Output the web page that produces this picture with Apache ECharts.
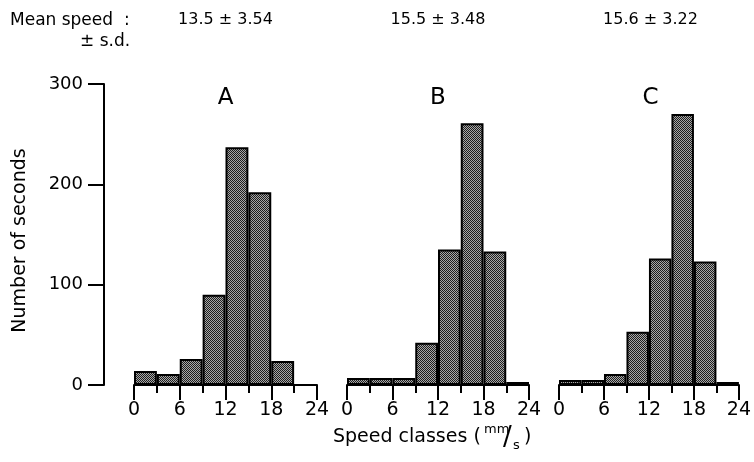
<!doctype html>
<html>
<head>
<meta charset="utf-8">
<title>Speed classes</title>
<style>
  html, body { margin: 0; padding: 0; background: #fff; }
  #main { width: 754px; height: 462px; }
</style>
</head>
<body>
<div id="main"></div>
<script src="https://cdn.jsdelivr.net/npm/echarts@6/dist/echarts.min.js"></script>
<script>
// speed classes, 3 mm/s wide
var bins = ['0-3', '3-6', '6-9', '9-12', '12-15', '15-18', '18-21', '21-24'];
var countsA = [14, 11, 26, 90, 237, 192, 24, 0];
var countsB = [7, 7, 7, 42, 135, 261, 133, 3];
var countsC = [5, 5, 11, 53, 126, 270, 123, 3];
var panels = ['A', 'B', 'C'];
var meanSd = ['13.5 \u00b1 3.54', '15.5 \u00b1 3.48', '15.6 \u00b1 3.22'];
var xMin = 0, xMax = 24, xStep = 6;
var yMin = 0, yMax = 300, yStep = 100;

var FONT = "'DejaVu Sans', sans-serif";

// stippled fill like the print
var pc = document.createElement('canvas');
pc.width = 2; pc.height = 2;
var pctx = pc.getContext('2d');
pctx.fillStyle = '#a8a8a8';
pctx.fillRect(0, 0, 2, 2);
pctx.fillStyle = '#1e1e1e';
pctx.fillRect(0, 0, 1, 1);
pctx.fillRect(1, 1, 1, 1);

var grids = [
  {left: 134, width: 183, top: 84, bottom: 77},
  {left: 347, width: 182, top: 84, bottom: 77},
  {left: 559, width: 183, top: 84, bottom: 77}
];
var allCounts = [countsA, countsB, countsC];

var xAxes = [], yAxes = [], series = [], graphics = [];

for (var i = 0; i < 3; i++) {
  // hidden category axis carries the bars
  xAxes.push({
    type: 'category', gridIndex: i, data: bins, show: false, position: 'bottom'
  });
  // visible value axis for ticks and labels
  xAxes.push({
    type: 'value', gridIndex: i, min: xMin, max: xMax, interval: xStep,
    position: 'bottom',
    axisLine: {onZero: false, lineStyle: {color: '#000', width: 2}},
    axisTick: {length: 15, lineStyle: {color: '#000', width: 2}},
    minorTick: {show: true, splitNumber: 2, length: 8, lineStyle: {color: '#000', width: 2}},
    splitLine: {show: false},
    axisLabel: {color: '#000', fontSize: 19, fontFamily: FONT, margin: 16}
  });
  yAxes.push({
    type: 'value', gridIndex: i, min: yMin, max: yMax, interval: yStep,
    show: i === 0,
    position: 'left',
    offset: 30,
    name: i === 0 ? 'Number of seconds' : '',
    nameLocation: 'middle',
    nameGap: 74,
    nameTextStyle: {color: '#000', fontSize: 19, fontFamily: FONT, padding: [0, 12, 0, 0]},
    axisLine: {show: true, onZero: false, lineStyle: {color: '#000', width: 2}},
    axisTick: {show: true, length: 16, lineStyle: {color: '#000', width: 2}},
    splitLine: {show: false},
    axisLabel: {color: '#000', fontSize: 18, fontFamily: FONT, margin: 21}
  });
  series.push({
    type: 'bar',
    xAxisIndex: i * 2,
    yAxisIndex: i,
    data: allCounts[i],
    barCategoryGap: '0%',
    itemStyle: {
      color: {image: pc, repeat: 'repeat'},
      borderColor: '#000',
      borderWidth: 2
    },
    silent: true,
    animation: false
  });
  var cx = grids[i].left + grids[i].width / 2;
  graphics.push({
    type: 'text', x: cx, y: 87,
    style: {text: panels[i], fontSize: 23, fontFamily: FONT, fill: '#000', align: 'center'}
  });
  graphics.push({
    type: 'text', x: cx - 91, y: 12,
    style: {text: meanSd[i], fontSize: 16, fontFamily: FONT, fill: '#000', align: 'center',
            x: 91}
  });
}

// header on the left
graphics.push({
  type: 'text', left: 10, top: 12,
  style: {text: 'Mean speed  :', fontSize: 17, fontFamily: FONT, fill: '#000'}
});
graphics.push({
  type: 'text', left: 80, top: 33,
  style: {text: '\u00b1 s.d.', fontSize: 17, fontFamily: FONT, fill: '#000'}
});

// x-axis title with units mm/s
graphics.push({
  type: 'group', left: 333, top: 423,
  children: [
    {type: 'text', x: 0, y: 5, style: {text: 'Speed classes (', fontSize: 19, fontFamily: FONT, fill: '#000'}},
    {type: 'text', x: 0, y: 0, style: {text: 'mm', fontSize: 13, fontFamily: FONT, fill: '#000', x: 151}},
    {type: 'text', x: 0, y: 2, style: {text: '/', fontSize: 26, fontFamily: FONT, fill: '#000', x: 170}},
    {type: 'text', x: 0, y: 16, style: {text: 's', fontSize: 13, fontFamily: FONT, fill: '#000', x: 180}},
    {type: 'text', x: 0, y: 5, style: {text: ')', fontSize: 19, fontFamily: FONT, fill: '#000', x: 191}}
  ]
});

var chart = echarts.init(document.getElementById('main'));
chart.setOption({
  animation: false,
  grid: grids,
  xAxis: xAxes,
  yAxis: yAxes,
  series: series,
  graphic: graphics
});
</script>
</body>
</html>
